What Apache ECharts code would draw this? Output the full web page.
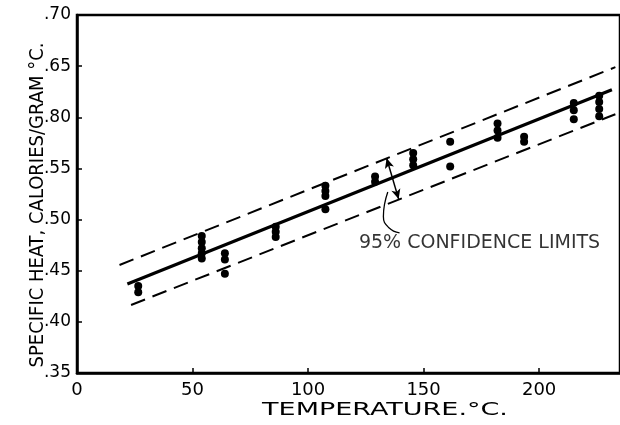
<!DOCTYPE html>
<html>
<head>
<meta charset="utf-8">
<script src="https://cdn.jsdelivr.net/npm/echarts@6/dist/echarts.min.js"></script>
<style>html,body{margin:0;padding:0;background:#fff}#c{width:620px;height:425px}</style>
</head>
<body>
<div id="c"></div>
<script>
// Measured points (temperature °C, specific heat cal/g °C)
const tempC = [26.5, 26.5,
  54, 54, 54, 54, 54,
  64, 64, 64,
  86, 86, 86,
  107.5, 107.5, 107.5, 107.5,
  129, 129,
  145.5, 145.5, 145.5,
  161.5, 161.5,
  182, 182, 182,
  193.5, 193.5,
  215, 215, 215,
  226, 226, 226, 226];
const specHeat = [0.435, 0.429,
  0.484, 0.478, 0.472, 0.467, 0.462,
  0.467, 0.461, 0.447,
  0.493, 0.488, 0.483,
  0.533, 0.528, 0.523, 0.510,
  0.542, 0.537,
  0.565, 0.559, 0.553,
  0.576, 0.552,
  0.594, 0.587, 0.580,
  0.581, 0.576,
  0.614, 0.607, 0.598,
  0.621, 0.615, 0.608, 0.601];

// Fitted line and 95% confidence limits (end points)
const fitX = [21.8, 231.5];
const fitY = [0.437, 0.627];
const upperX = [18.4, 233];
const upperY = [0.4556, 0.649];
const lowerX = [23.4, 233];
const lowerY = [0.4165, 0.603];

// Annotation (data coordinates)
const arrowFrom = [134.0, 0.560];
const arrowTo = [139.2, 0.520];
const leaderX = [134.5, 132.6, 135.0, 139.6];
const leaderY = [0.527, 0.503, 0.492, 0.487];
const noteAt = [122, 0.477];
const noteText = '95% CONFIDENCE LIMITS';

// Axis tick labels
const xTicks = [0, 50, 100, 150, 200];
const yTickLabels = ['.35', '.40', '.45', '.50', '.55', '.80', '.65', '.70'];

const zip = (a, b) => a.map((v, i) => [v, b[i]]);
const FONT = 'DejaVu Sans';

const chart = echarts.init(document.getElementById('c'), null, {renderer: 'canvas'});
chart.setOption({
  animation: false,
  backgroundColor: '#fff',
  grid: {left: 77, top: 15, right: -6, bottom: 52, show: true, borderColor: '#000', borderWidth: 2.5},
  xAxis: {
    type: 'value', min: 0, max: 235, interval: 50,
    splitLine: {show: false},
    axisLine: {lineStyle: {color: '#000', width: 2.5}},
    axisTick: {inside: true, length: 5, lineStyle: {color: '#000', width: 1.5}},
    axisLabel: {color: '#000', fontFamily: FONT, fontSize: 18, margin: 8, showMaxLabel: false,
      formatter: v => xTicks.indexOf(v) >= 0 ? String(v) : ''}
  },
  yAxis: {
    type: 'value', min: 0.35, max: 0.70, interval: 0.05,
    splitLine: {show: false},
    axisLine: {lineStyle: {color: '#000', width: 2.5}},
    axisTick: {inside: true, length: 5, lineStyle: {color: '#000', width: 1.5}},
    axisLabel: {color: '#000', fontFamily: FONT, fontSize: 17, margin: 6,
      formatter: v => { const i = Math.round((v - 0.35) / 0.05); return yTickLabels[i] || ''; }}
  },
  series: [
    {type: 'line', data: zip(upperX, upperY), showSymbol: false, silent: true,
      lineStyle: {color: '#000', width: 2, type: [15, 8]}},
    {type: 'line', data: zip(lowerX, lowerY), showSymbol: false, silent: true,
      lineStyle: {color: '#000', width: 2, type: [15, 8]}},
    {type: 'line', data: zip(fitX, fitY), showSymbol: false, silent: true,
      lineStyle: {color: '#000', width: 3.2},
      markLine: {silent: true, symbol: ['arrow', 'arrow'], symbolSize: [7, 10],
        label: {show: false}, lineStyle: {color: '#000', width: 1.5, type: 'solid'},
        data: [[{coord: arrowFrom}, {coord: arrowTo}]]}},
    {type: 'line', data: zip(leaderX, leaderY), smooth: true, showSymbol: false, silent: true,
      lineStyle: {color: '#000', width: 1.3}},
    {type: 'scatter', data: zip(tempC, specHeat), symbol: 'circle', symbolSize: 8,
      itemStyle: {color: '#000', opacity: 1}},
    {type: 'scatter', data: [noteAt], symbolSize: 0, silent: true,
      label: {show: true, position: 'right', distance: 0, formatter: noteText,
        color: '#000', fontFamily: FONT, fontSize: 19}}
  ],
  graphic: [
    {type: 'text', x: 38, y: 205, rotation: Math.PI / 2,
      style: {text: 'SPECIFIC HEAT, CALORIES/GRAM °C.', fill: '#000', font: '20px "DejaVu Sans Condensed"',
        align: 'center', verticalAlign: 'middle'}},
    {type: 'text', x: 385, y: 410, scaleX: 1.5,
      style: {text: 'TEMPERATURE.°C.', fill: '#000', font: '18px "DejaVu Sans"',
        align: 'center', verticalAlign: 'middle'}}
  ]
});
</script>
</body>
</html>
